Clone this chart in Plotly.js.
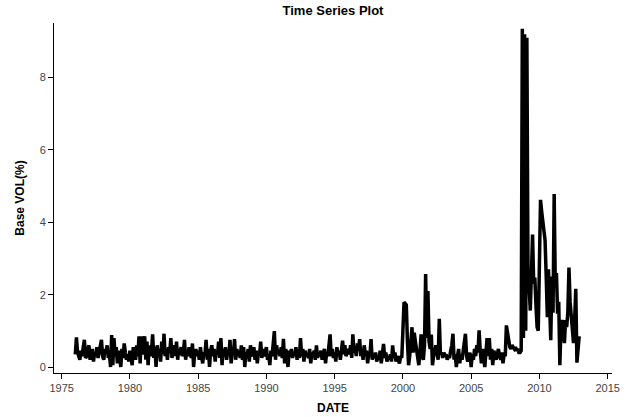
<!DOCTYPE html>
<html><head><meta charset="utf-8">
<script src="https://cdn.plot.ly/plotly-3.0.1.min.js"></script>
<style>html,body{margin:0;padding:0;background:#fff}#chart{width:629px;height:417px}</style>
</head><body><div id="chart"></div>
<script>
// Monthly values, Jan 1976 .. Dec 2012
const startYear = 1976;
const vol1976to1985 = [
0.35,0.82,0.40,0.30,0.20,0.45,0.30,0.55,0.75,0.25,0.30,0.50,
0.60,0.20,0.35,0.50,0.15,0.40,0.30,0.55,0.25,0.45,0.65,0.75,
0.30,0.20,0.50,0.40,0.60,0.25,0.35,0.00,0.88,0.05,0.80,0.30,
0.55,0.10,0.45,0.30,0.00,0.50,0.25,0.65,0.40,0.20,0.35,0.15,
0.45,0.30,0.05,0.55,0.40,0.20,0.60,0.30,0.85,0.10,0.85,0.35,
0.50,0.85,0.20,0.70,0.05,0.60,0.30,0.45,0.90,0.25,0.55,0.00,
0.60,0.30,0.50,0.15,0.70,0.35,0.92,0.30,0.50,0.20,0.55,0.40,
0.80,0.25,0.45,0.60,0.30,0.70,0.20,0.50,0.35,0.55,0.30,0.40,
0.75,0.20,0.45,0.30,0.55,0.35,0.25,0.65,0.00,0.40,0.50,0.30,
0.45,0.20,0.55,0.30,0.10,0.40,0.35,0.75,0.20,0.50,0.00,0.45];
const vol1986to1995 = [
0.60,0.30,0.50,0.15,0.45,0.35,0.70,0.25,0.80,0.05,0.50,0.30,
0.55,0.20,0.40,0.30,0.75,0.10,0.45,0.35,0.77,0.20,0.50,0.30,
0.45,0.25,0.60,0.20,0.55,0.00,0.40,0.30,0.50,0.15,0.60,0.35,
0.30,0.55,0.20,0.45,0.10,0.40,0.35,0.70,0.25,0.50,0.30,0.40,
0.55,0.20,0.35,0.05,0.45,0.30,0.60,0.99,0.20,0.60,0.35,0.45,
0.30,0.55,0.25,0.78,0.10,0.50,0.30,0.00,0.45,0.30,0.50,0.25,
0.40,0.30,0.55,0.20,0.35,0.25,0.80,0.30,0.50,0.15,0.45,0.30,
0.35,0.25,0.50,0.10,0.40,0.30,0.45,0.20,0.60,0.25,0.40,0.30,
0.45,0.20,0.35,0.50,0.10,0.40,0.30,0.55,0.90,0.30,0.50,0.25,
0.40,0.15,0.55,0.30,0.45,0.20,0.50,0.73,0.35,0.60,0.30,0.45];
const vol1996to2004 = [
0.50,0.35,0.60,0.25,0.90,0.40,0.55,0.30,0.65,0.45,0.77,0.30,
0.50,0.20,0.60,0.35,0.45,0.10,0.40,0.30,0.77,0.20,0.35,0.25,
0.40,0.15,0.30,0.20,0.45,0.10,0.35,0.64,0.25,0.40,0.15,0.30,
0.20,0.35,0.15,0.60,0.25,0.40,0.15,0.30,0.20,0.10,0.30,0.25,
1.00,1.79,1.76,1.72,0.70,0.05,0.30,0.60,1.10,0.40,0.95,0.70,
0.50,0.30,0.05,0.40,0.90,0.30,0.20,0.60,2.57,0.80,2.10,0.70,
0.50,0.90,0.05,0.30,0.40,0.60,0.30,0.20,1.33,0.35,0.40,0.25,
0.40,0.30,0.35,0.20,0.30,0.25,0.45,0.60,0.92,0.20,0.35,0.00,
0.30,0.50,0.10,0.35,0.20,0.45,0.60,0.92,0.30,0.15,0.25,0.40];
const vol2005to2012 = [
0.00,0.35,0.20,0.50,0.30,0.60,0.40,1.01,0.45,0.10,0.50,0.30,
0.00,0.40,0.80,0.30,0.80,0.20,0.50,0.05,0.45,0.30,0.20,0.35,
0.50,0.30,0.20,0.40,0.10,0.35,0.30,1.15,0.90,0.65,0.55,0.50,
0.60,0.55,0.50,0.55,0.45,0.50,0.40,0.40,0.45,9.35,0.80,9.20,
1.00,9.10,2.50,2.20,1.56,2.60,3.66,2.30,2.47,1.70,1.10,1.00,
2.80,4.62,4.30,4.00,3.80,3.50,2.50,1.38,2.70,1.80,0.74,2.50,
1.50,4.78,2.20,2.60,1.47,1.80,0.05,1.20,1.30,0.90,0.66,1.30,
1.10,1.50,2.75,1.80,1.48,1.20,0.66,1.30,2.16,0.12,0.66,0.85];
const xTickVals = [1975,1980,1985,1990,1995,2000,2005,2010,2015];
const yTickVals = [0,2,4,6,8];

const vol = vol1976to1985.concat(vol1986to1995, vol1996to2004, vol2005to2012);
const dates = vol.map((_, i) => startYear + i / 12);

const fam = 'Liberation Sans, Arial, sans-serif';
Plotly.newPlot('chart', [{
  x: dates, y: vol, type: 'scatter', mode: 'lines',
  line: {color: '#000', width: 3.5}, hoverinfo: 'skip'
}], {
  width: 629, height: 417,
  margin: {l: 54, r: 17, t: 23, b: 44},
  paper_bgcolor: '#fff', plot_bgcolor: '#fff',
  showlegend: false,
  font: {family: fam, size: 11, color: '#444'},
  title: {text: '<b>Time Series Plot</b>', x: 0.5, xref: 'paper', y: 0.985, yref: 'container',
          font: {family: fam, size: 13, color: '#000'}},
  xaxis: {
    range: [1974.44, 2015.32], tickvals: xTickVals, ticktext: xTickVals.map(String),
    showgrid: false, zeroline: false, showline: true, linecolor: '#000', linewidth: 1,
    ticks: 'outside', ticklen: 5, tickcolor: '#000',
    tickfont: {size: 11, color: '#444'},
    title: {text: '<b>DATE</b>', font: {size: 12, color: '#000'}, standoff: 10}
  },
  yaxis: {
    range: [-0.166, 9.51], tickvals: yTickVals, ticktext: yTickVals.map(String),
    showgrid: false, zeroline: false, showline: true, linecolor: '#000', linewidth: 1,
    ticks: 'outside', ticklen: 5, tickcolor: '#000',
    tickfont: {size: 11, color: '#444'},
    title: {text: '<b>Base VOL(%)</b>', font: {size: 12, color: '#000'}, standoff: 12}
  }
}, {displayModeBar: false, staticPlot: true});
</script>
</body></html>
